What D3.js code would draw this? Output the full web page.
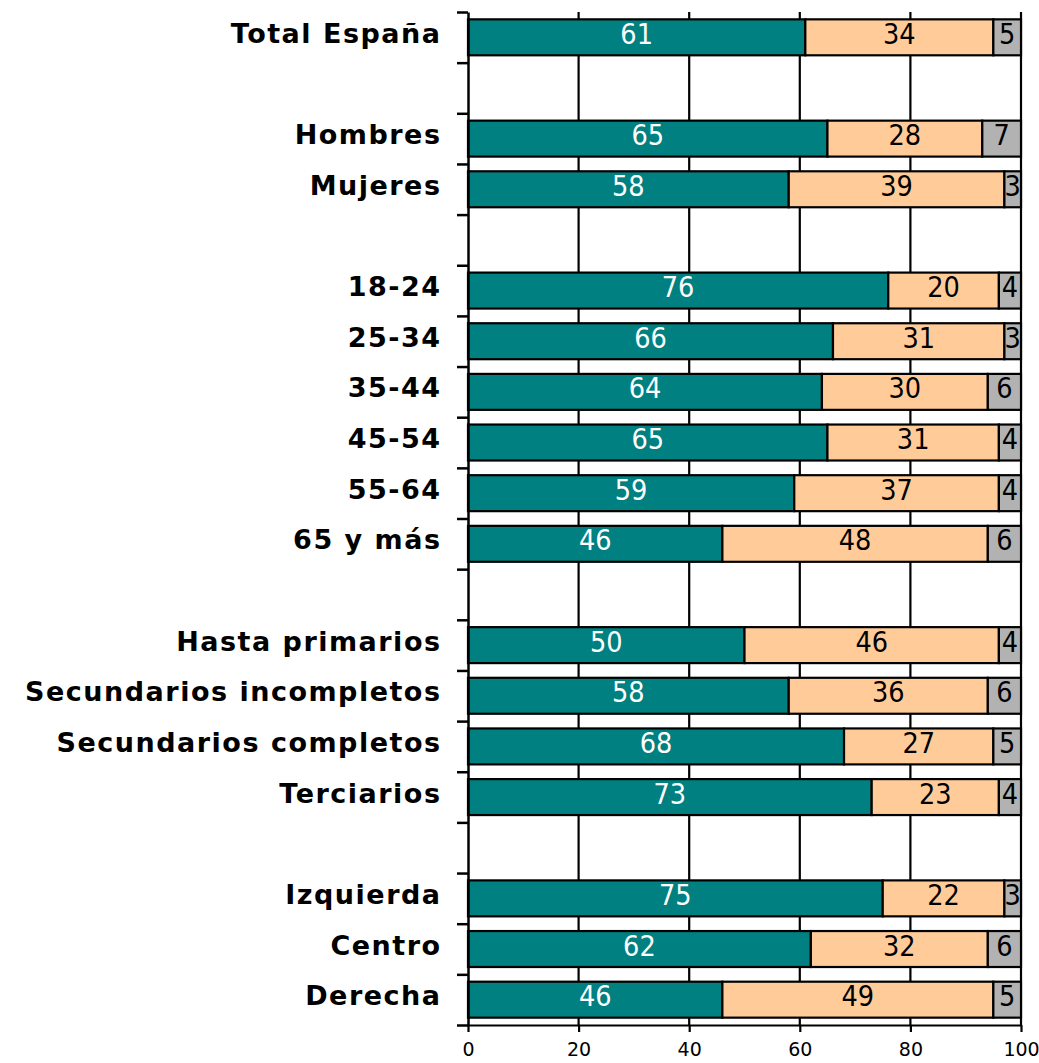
<!DOCTYPE html>
<html>
<head>
<meta charset="utf-8">
<script src="https://cdn.jsdelivr.net/npm/d3@7"></script>
<style>
  html, body { margin: 0; padding: 0; background: #fff; }
  svg { display: block; }
</style>
</head>
<body>
<svg id="chart" width="1039" height="1063"></svg>
<script>
// Rows (empty string = spacer row)
const categories = [
  "Total España", "",
  "Hombres", "Mujeres", "",
  "18-24", "25-34", "35-44", "45-54", "55-64", "65 y más", "",
  "Hasta primarios", "Secundarios incompletos", "Secundarios completos", "Terciarios", "",
  "Izquierda", "Centro", "Derecha"
];
const seriesA = [61, null, 65, 58, null, 76, 66, 64, 65, 59, 46, null, 50, 58, 68, 73, null, 75, 62, 46];
const seriesB = [34, null, 28, 39, null, 20, 31, 30, 31, 37, 48, null, 46, 36, 27, 23, null, 22, 32, 49];
const seriesC = [5, null, 7, 3, null, 4, 3, 6, 4, 4, 6, null, 4, 6, 5, 4, null, 3, 6, 5];
const xTicks = [0, 20, 40, 60, 80, 100];

const colors = ["#008080", "#FFCC99", "#B2B2B2"];
const textColors = ["#ffffff", "#000000", "#000000"];

const svg = d3.select("#chart");
const mLeft = 468, mRight = 1021, mTop = 12, mBottom = 1025;

const keys = categories.map((c, i) => "r" + i);
const y = d3.scaleBand().domain(keys).range([mTop, mBottom]).paddingInner(0.29).paddingOuter(0.145);
const yLin = d3.scaleLinear().domain([0, categories.length]).range([mTop, mBottom]);
const x = d3.scaleLinear().domain([0, 100]).range([mLeft, mRight]);

// gridlines
svg.append("g").selectAll("line").data(xTicks.filter(d => d > 0)).join("line")
  .attr("x1", d => x(d)).attr("x2", d => x(d))
  .attr("y1", mTop).attr("y2", mBottom)
  .attr("stroke", "#000").attr("stroke-width", 2.2);

// bars
const rows = categories.map((c, i) => ({ key: keys[i], label: c, vals: [seriesA[i], seriesB[i], seriesC[i]] }))
  .filter(r => r.vals[0] != null);

const segs = [];
rows.forEach(r => {
  let acc = 0;
  r.vals.forEach((v, j) => { segs.push({ key: r.key, x0: acc, x1: acc + v, v, j }); acc += v; });
});

svg.append("g").selectAll("rect").data(segs).join("rect")
  .attr("x", d => x(d.x0)).attr("width", d => x(d.x1) - x(d.x0))
  .attr("y", d => y(d.key)).attr("height", y.bandwidth())
  .attr("fill", d => colors[d.j]).attr("stroke", "#000").attr("stroke-width", 2.2);

svg.append("g").selectAll("text").data(segs).join("text")
  .attr("x", d => (x(d.x0) + x(d.x1)) / 2)
  .attr("y", d => y(d.key) + y.bandwidth() / 2 + 6.5)
  .attr("text-anchor", "middle")
  .attr("fill", d => textColors[d.j])
  .attr("font-family", "'DejaVu Sans Condensed', 'DejaVu Sans', sans-serif")
  .attr("font-size", 28.5)
  .text(d => d.v);

// y axis (ticks at row boundaries)
const yAxis = d3.axisLeft(yLin).tickValues(d3.range(0, categories.length + 1)).tickSize(11).tickSizeOuter(0).tickFormat("");
const ga = svg.append("g").attr("transform", `translate(${mLeft},0)`).call(yAxis);
ga.selectAll("path,line").attr("stroke", "#000").attr("stroke-width", 2.5);

// category labels
svg.append("g").selectAll("text").data(rows).join("text")
  .attr("x", 441.5)
  .attr("y", d => y(d.key) + y.bandwidth() / 2 + 5.5)
  .attr("text-anchor", "end")
  .attr("font-family", "'DejaVu Sans', sans-serif")
  .attr("font-weight", "bold")
  .attr("font-size", 27)
  .attr("letter-spacing", 1.5)
  .attr("fill", "#000")
  .text(d => d.label);

// x axis
const xAxis = d3.axisBottom(x).tickValues(xTicks).tickSize(7).tickSizeOuter(0).tickPadding(11);
const gx = svg.append("g").attr("transform", `translate(0,${mBottom})`).call(xAxis);
gx.selectAll("path,line").attr("stroke", "#000").attr("stroke-width", 2.2);
gx.selectAll("text").attr("font-family", "'DejaVu Sans', sans-serif").attr("font-size", 19).attr("fill", "#000");
</script>
</body>
</html>
